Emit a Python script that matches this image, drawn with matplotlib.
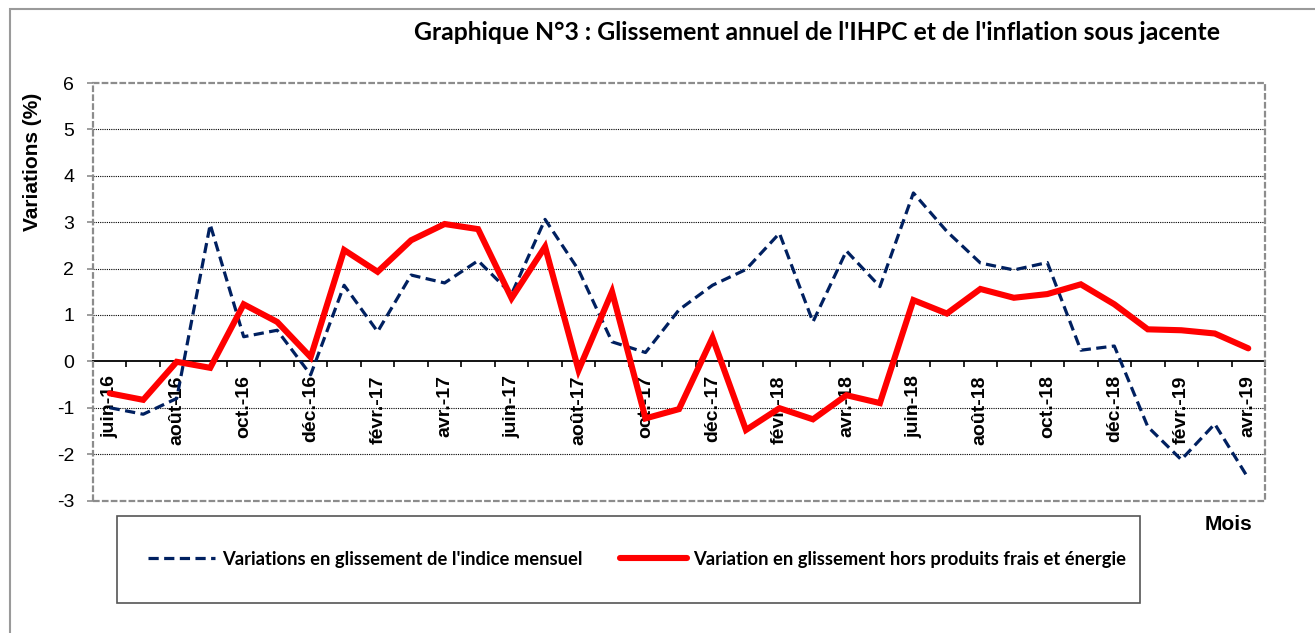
import matplotlib
matplotlib.use("Agg")
import matplotlib.pyplot as plt
from matplotlib.patches import Rectangle
import numpy as np

# months shown on the category axis
months = ["juin-16", "juil.-16", "août-16", "sept.-16", "oct.-16", "nov.-16", "déc.-16",
          "janv.-17", "févr.-17", "mars-17", "avr.-17", "mai-17", "juin-17", "juil.-17",
          "août-17", "sept.-17", "oct.-17", "nov.-17", "déc.-17", "janv.-18", "févr.-18",
          "mars-18", "avr.-18", "mai-18", "juin-18", "juil.-18", "août-18", "sept.-18",
          "oct.-18", "nov.-18", "déc.-18", "janv.-19", "févr.-19", "mars-19", "avr.-19"]

# glissement de l'indice mensuel (IHPC)
ihpc = [-1.00, -1.14, -0.80, 2.95, 0.53, 0.67, -0.29, 1.64, 0.64, 1.86, 1.69, 2.17,
        1.45, 3.06, 1.97, 0.42, 0.19, 1.11, 1.64, 1.98, 2.76, 0.85, 2.38, 1.61,
        3.63, 2.80, 2.12, 1.97, 2.13, 0.24, 0.33, -1.41, -2.12, -1.35, -2.52]

# glissement hors produits frais et energie (inflation sous jacente)
sous_jacente = [-0.69, -0.83, -0.01, -0.14, 1.23, 0.85, 0.09, 2.40, 1.93, 2.61, 2.96, 2.85,
                1.36, 2.47, -0.19, 1.50, -1.23, -1.03, 0.51, -1.48, -1.01, -1.25, -0.73, -0.90,
                1.32, 1.03, 1.56, 1.37, 1.45, 1.66, 1.23, 0.69, 0.67, 0.60, 0.28]

labels = ["Variations en glissement de l'indice mensuel",
          "Variation en glissement hors produits frais et énergie"]
title = "Graphique N°3 : Glissement annuel de l'IHPC et de l'inflation sous jacente"

W, H = 1315, 633
fig = plt.figure(figsize=(W / 100, H / 100), dpi=100)
renderer = fig.canvas.get_renderer()


def fit_size(text, target_px, **kw):
    t = fig.text(0, 0, text, fontsize=10, **kw)
    w = t.get_window_extent(renderer).width
    t.remove()
    return 10 * target_px / w


# outer border (only top and left edges visible)
fig.add_artist(Rectangle((10 / W, -0.1), 1.2, 1 - 9 / H + 0.1, transform=fig.transFigure,
                         fill=False, ec="#9a9a9a", lw=1.5))

ax = fig.add_axes([93 / W, 1 - 500.5 / H, (1265 - 93) / W, (500.5 - 83) / H])
x = np.arange(len(months))

ax.plot(x, ihpc, color="#002060", lw=2.3, ls=(0, (3.2, 1.7)), label=labels[0], zorder=3)
ax.plot(x, sous_jacente, color="#ff0000", lw=4.4, solid_capstyle="round",
        solid_joinstyle="miter", label=labels[1], zorder=4)

ax.set_xlim(-0.5, len(months) - 0.5)
ax.set_ylim(-3, 6)
ax.set_yticks(range(-3, 7))
ax.set_yticklabels([str(v) for v in range(-3, 7)], fontfamily="Liberation Sans", fontsize=14)
ax.tick_params(axis="y", length=4.5, width=1.2, color="#8c8c8c", pad=9)

# gridlines, hidden at 0 and on the frame
ax.grid(axis="y", color="black", ls=(0, (1, 1)), lw=0.8)
for v, gl in zip(range(-3, 7), ax.get_ygridlines()):
    if v in (-3, 0, 6):
        gl.set_visible(False)

# category axis drawn on the zero line
for s in ("left", "right", "top"):
    ax.spines[s].set_visible(False)
ax.spines["bottom"].set_position(("data", 0))
ax.spines["bottom"].set_color("black")
ax.spines["bottom"].set_linewidth(1.3)
ax.set_xticks(x[::2])
ax.set_xticklabels(months[::2], rotation=90, fontfamily="Liberation Sans",
                   fontweight="bold", fontsize=14)
ax.set_xticks(np.arange(-0.5, len(months), 1), minor=True)
ax.tick_params(axis="x", which="major", length=0, pad=10)
ax.tick_params(axis="x", which="minor", length=4, width=1.2, color="black", direction="out")

# dashed plot frame
ax.add_patch(Rectangle((0, 0), 1, 1, transform=ax.transAxes, fill=False,
                       ec="#8c8c8c", lw=1.6, ls=(0, (3, 1)), clip_on=False, zorder=5))

fig.text(33 / W, 1 - 162 / H, "Variations (%)", rotation=90, ha="center", va="center",
         fontfamily="Liberation Sans", fontweight="bold", fontsize=15)
fig.text(1228 / W, 1 - 524 / H, "Mois", ha="center", va="center",
         fontfamily="Liberation Sans", fontweight="bold", fontsize=15)

ts = fit_size(title, 809, fontfamily="Lato", fontweight="bold")
fig.text(817.5 / W, 1 - 39.5 / H, title, ha="center", va="baseline",
         fontfamily="Lato", fontweight="bold", fontsize=ts)

# legend box
fig.add_artist(Rectangle((117 / W, 1 - 603 / H), (1140 - 117) / W, (603 - 516) / H,
                         transform=fig.transFigure, fill=False, ec="#555555", lw=1.2))
ls_ = fit_size(labels[0], 361, fontfamily="Lato", fontweight="bold")
fpx = ls_ * 100 / 72
fig.legend(loc="center left", bbox_to_anchor=(148 / W, 1 - 559 / H), ncol=2,
           frameon=False, borderpad=0, borderaxespad=0,
           handlelength=67 / fpx, handletextpad=7 / fpx, columnspacing=37 / fpx,
           prop={"family": "Lato", "weight": "bold", "size": ls_})

fig.savefig("out.png", dpi=100)
